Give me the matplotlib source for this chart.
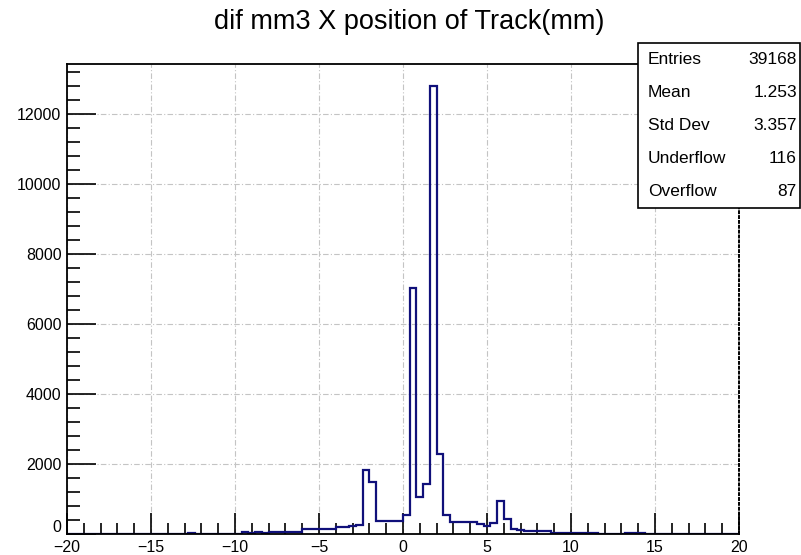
import numpy as np
import matplotlib
matplotlib.use("Agg")
import matplotlib.pyplot as plt
from matplotlib.patches import Rectangle
from matplotlib.transforms import ScaledTranslation

plt.rcParams['font.family'] = ['Liberation Sans', 'DejaVu Sans']

# histogram: 100 bins from -20 to 20 (width 0.4)
x_min, x_max, n_bins = -20, 20, 100
counts = [
    0, 0, 0, 0, 0,          # -20 .. -18
    0, 0, 0, 0, 0,          # -18 .. -16
    0, 0, 0, 0, 0,          # -16 .. -14
    0, 0, 0, 30, 0,         # -14 .. -12
    0, 0, 0, 0, 0,          # -12 .. -10
    5, 45, 25, 45, 30,      # -10 .. -8
    50, 50, 55, 55, 60,     # -8 .. -6
    140, 140, 140, 145, 150,  # -6 .. -4
    190, 195, 235, 250, 1825,  # -4 .. -2
    1490, 380, 380, 380, 380,  # -2 .. 0
    540, 7020, 1055, 1420, 12780,  # 0 .. 2
    2290, 555, 330, 330, 330,  # 2 .. 4
    330, 290, 220, 320, 950,   # 4 .. 6
    440, 150, 100, 95, 95,     # 6 .. 8
    90, 90, 25, 25, 25,        # 8 .. 10
    25, 25, 25, 25, 0,         # 10 .. 12
    0, 0, 0, 25, 15,           # 12 .. 14
    20, 0, 0, 0, 0,            # 14 .. 16
    0, 0, 0, 0, 0,             # 16 .. 18
    0, 0, 0, 0, 0,             # 18 .. 20
]
edges = np.linspace(x_min, x_max, n_bins + 1)

title = "dif mm3 X position of Track(mm)"
stat_names = ["Entries", "Mean", "Std Dev", "Underflow", "Overflow"]
stat_values = ["39168", "1.253", "3.357", "116", "87"]

W, H = 801, 555
fig = plt.figure(figsize=(W / 100, H / 100), dpi=100)
ax = fig.add_axes([67 / W, 1 - 534 / H, (739 - 67) / W, (534 - 64) / H])

ax.stairs(counts, edges, color='#10107a', lw=1.6)

ax.set_xlim(x_min, x_max)
ax.set_ylim(0, max(counts) * 1.05)

ax.set_xticks(np.arange(-20, 21, 5))
ax.set_xticks(np.arange(-20, 21, 1), minor=True)
ax.set_yticks(np.arange(0, 13000, 2000))
ax.set_yticks(np.arange(0, 13400, 400), minor=True)

ax.tick_params(which='both', direction='in', top=False, right=False,
               labelsize=11.5, width=1.2, color='black')
ax.tick_params(axis='x', which='major', length=15, pad=4)
ax.tick_params(axis='x', which='minor', length=8)
ax.tick_params(axis='y', which='major', length=21, pad=4)
ax.tick_params(axis='y', which='minor', length=9)

# ROOT lifts the y "0" label above the x labels
zero_lbl = ax.yaxis.get_major_ticks()[0].label1
zero_lbl.set_transform(zero_lbl.get_transform()
                       + ScaledTranslation(0, 6 / 72, fig.dpi_scale_trans))

ax.grid(True, which='major', color='#c4c4c4', lw=0.8,
        linestyle=(0, (5, 2, 1, 2)))
ax.set_axisbelow(True)

for s in ['left', 'bottom', 'top']:
    ax.spines[s].set_linewidth(1.3)
ax.spines['right'].set_linestyle((0, (1, 1.5)))
ax.spines['right'].set_linewidth(1.4)

fig.text(409 / W, 1 - 22 / H, title, ha='center', va='center', fontsize=19.5)

# stats box
bx0, by0, bx1, by1 = 638, 43, 800, 208
box = Rectangle((bx0 / W, 1 - by1 / H), (bx1 - bx0) / W, (by1 - by0) / H,
                transform=fig.transFigure, facecolor='white',
                edgecolor='black', lw=1.2, zorder=5)
fig.add_artist(box)
row_h = (by1 - by0) / len(stat_names)
for k, (name, val) in enumerate(zip(stat_names, stat_values)):
    yc = by0 + row_h * (k + 0.5)
    fig.text(648 / W, 1 - yc / H, name, ha='left', va='center',
             fontsize=12.5, zorder=6)
    fig.text(797 / W, 1 - yc / H, val, ha='right', va='center',
             fontsize=12.5, zorder=6)

fig.savefig("out.png", dpi=100)
